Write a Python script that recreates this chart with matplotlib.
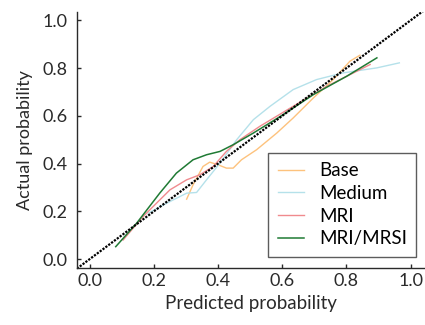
import numpy as np
import matplotlib
matplotlib.use("Agg")
import matplotlib.pyplot as plt

plt.rcParams['font.family'] = ['Lato', 'DejaVu Sans']

# calibration curves
base_x = [0.302, 0.322, 0.353, 0.374, 0.400, 0.426, 0.447, 0.473, 0.520, 0.583, 0.634, 0.697, 0.759, 0.811, 0.842]
base_y = [0.251, 0.311, 0.388, 0.406, 0.395, 0.381, 0.381, 0.416, 0.458, 0.528, 0.591, 0.675, 0.752, 0.829, 0.854]

medium_x = [0.182, 0.250, 0.302, 0.333, 0.364, 0.406, 0.458, 0.510, 0.562, 0.634, 0.707, 0.790, 0.895, 0.965]
medium_y = [0.192, 0.241, 0.276, 0.279, 0.332, 0.402, 0.500, 0.584, 0.640, 0.710, 0.752, 0.780, 0.801, 0.822]

mri_x = [0.104, 0.166, 0.250, 0.302, 0.343, 0.385, 0.426, 0.468, 0.530, 0.634, 0.739, 0.874]
mri_y = [0.080, 0.178, 0.290, 0.332, 0.353, 0.388, 0.451, 0.500, 0.556, 0.640, 0.724, 0.815]

mrsi_x = [0.081, 0.146, 0.218, 0.270, 0.322, 0.364, 0.406, 0.447, 0.510, 0.603, 0.697, 0.801, 0.895]
mrsi_y = [0.052, 0.150, 0.276, 0.360, 0.416, 0.437, 0.451, 0.479, 0.528, 0.605, 0.689, 0.766, 0.843]

ticks = [0.0, 0.2, 0.4, 0.6, 0.8, 1.0]

fig = plt.figure(figsize=(4.25, 3.25), dpi=100)
ax = fig.add_axes([0.181, 0.175, 0.819, 0.788])

ax.plot(base_x, base_y, color='#fdc27d', lw=1.0, label='Base')
ax.plot(medium_x, medium_y, color='#b5e1ea', lw=1.0, label='Medium')
ax.plot(mri_x, mri_y, color='#f08a8e', lw=1.0, label='MRI')
ax.plot(mrsi_x, mrsi_y, color='#1f7a34', lw=1.1, label='MRI/MRSI')
ax.plot([-0.04, 1.04], [-0.04, 1.04], color='black', lw=1.6, ls=(0, (1, 0.6)))

ax.set_xlim(-0.04, 1.045)
ax.set_ylim(-0.038, 1.035)
ax.set_xticks(ticks)
ax.set_yticks(ticks)
ax.set_xticklabels([f"{t:.1f}" for t in ticks])
ax.set_yticklabels([f"{t:.1f}" for t in ticks])
ax.tick_params(direction='in', length=3, width=1, labelsize=13, colors='#2a2a2a')
ax.tick_params(axis='x', pad=3.5)
ax.tick_params(axis='y', pad=6.5)
for s in ['top', 'right']:
    ax.spines[s].set_visible(False)
for s in ['left', 'bottom']:
    ax.spines[s].set_linewidth(1.0)
    ax.spines[s].set_color('#2a2a2a')

ax.set_xlabel('Predicted probability', fontsize=13.5, color='#2a2a2a', labelpad=4)
ax.set_ylabel('Actual probability', fontsize=13, color='#2a2a2a', labelpad=7)

leg = ax.legend(loc='lower right', bbox_to_anchor=(0.975, 0.045), fontsize=13.5, frameon=True,
                fancybox=False, edgecolor='#333333', handlelength=1.4, handletextpad=0.8,
                labelspacing=0.3, borderpad=0.5, borderaxespad=0)
leg.get_frame().set_linewidth(1.0)

fig.savefig('out.png', dpi=100)
